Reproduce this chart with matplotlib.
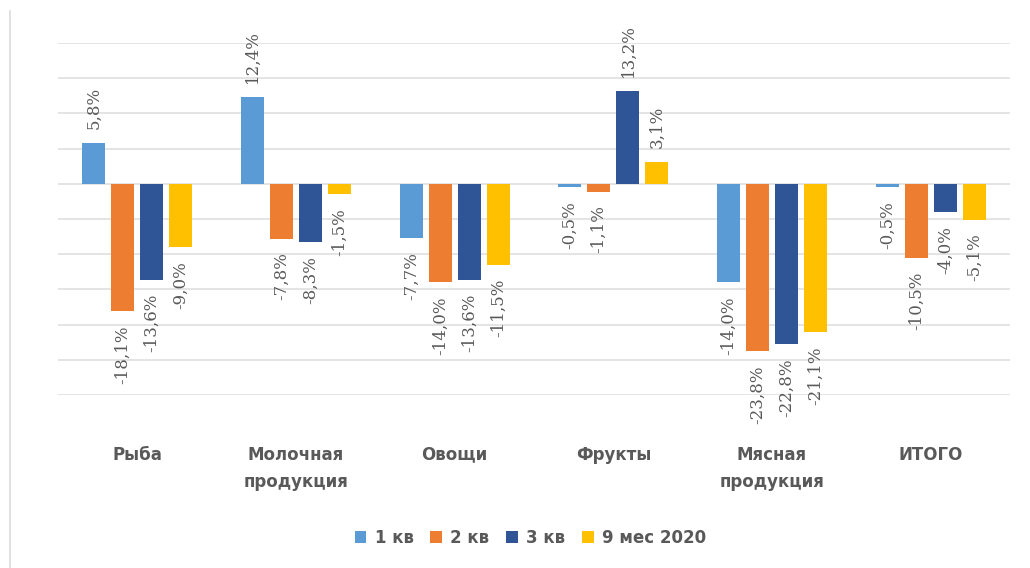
import matplotlib
matplotlib.use("Agg")
import matplotlib.pyplot as plt
from matplotlib.lines import Line2D
from matplotlib.patches import Patch
import numpy as np

categories = ["Рыба", "Молочная\nпродукция", "Овощи", "Фрукты", "Мясная\nпродукция", "ИТОГО"]
series_names = ["1 кв", "2 кв", "3 кв", "9 мес 2020"]
q1 = [5.8, 12.4, -7.7, -0.5, -14.0, -0.5]
q2 = [-18.1, -7.8, -14.0, -1.1, -23.8, -10.5]
q3 = [-13.6, -8.3, -13.6, 13.2, -22.8, -4.0]
m9 = [-9.0, -1.5, -11.5, 3.1, -21.1, -5.1]
series = [q1, q2, q3, m9]
colors = ["#5B9BD5", "#ED7D31", "#2F5597", "#FFC000"]

text_color = "#595959"
grid_color = "#DCDCDC"

fig = plt.figure(figsize=(10.30, 5.68), dpi=100)
ax = fig.add_axes([0.0563, 0.3046, 0.9243, 0.6197])

x = np.arange(len(categories))
step = 0.183
width = 0.145
offsets = (np.arange(len(series)) - 1.5) * step

for vals, off, col in zip(series, offsets, colors):
    bars = ax.bar(x + off, vals, width=width, color=col, zorder=3)
    for b, v in zip(bars, vals):
        label = f"{v:.1f}%".replace(".", ",")
        cx = b.get_x() + b.get_width() / 2
        dy = 10 if v >= 0 else -10
        ax.annotate(label, (cx, v), xytext=(0, dy), textcoords="offset points",
                    rotation=90, ha="center", va="bottom" if v >= 0 else "top",
                    fontsize=12, color=text_color, family="DejaVu Serif")

ax.set_xlim(-0.5, len(categories) - 0.5)
ax.set_ylim(-30, 20)
ax.set_yticks(np.arange(-30, 21, 5))
ax.yaxis.grid(True, color=grid_color, linewidth=1.1, zorder=0)
ax.tick_params(axis="y", left=False, labelleft=False)
ax.set_xticks(x)
ax.set_xticklabels(categories, fontsize=12, fontweight="bold", color=text_color,
                   linespacing=1.65, va="top")
ax.tick_params(axis="x", bottom=False, pad=33)
for s in ax.spines.values():
    s.set_visible(False)

handles = [Patch(facecolor=c, edgecolor="none") for c in colors]
leg = fig.legend(handles, series_names, loc="center", bbox_to_anchor=(0.515, 0.053),
                 ncol=4, frameon=False, handlelength=0.7, handleheight=0.7,
                 handletextpad=0.5, columnspacing=1.0,
                 prop={"size": 12, "weight": "bold"})
for t in leg.get_texts():
    t.set_color(text_color)

fig.add_artist(Line2D([10 / 1030, 10 / 1030], [0, 1 - 11 / 568], transform=fig.transFigure,
                      color=grid_color, linewidth=1.2))

fig.savefig("out.png", dpi=100)
